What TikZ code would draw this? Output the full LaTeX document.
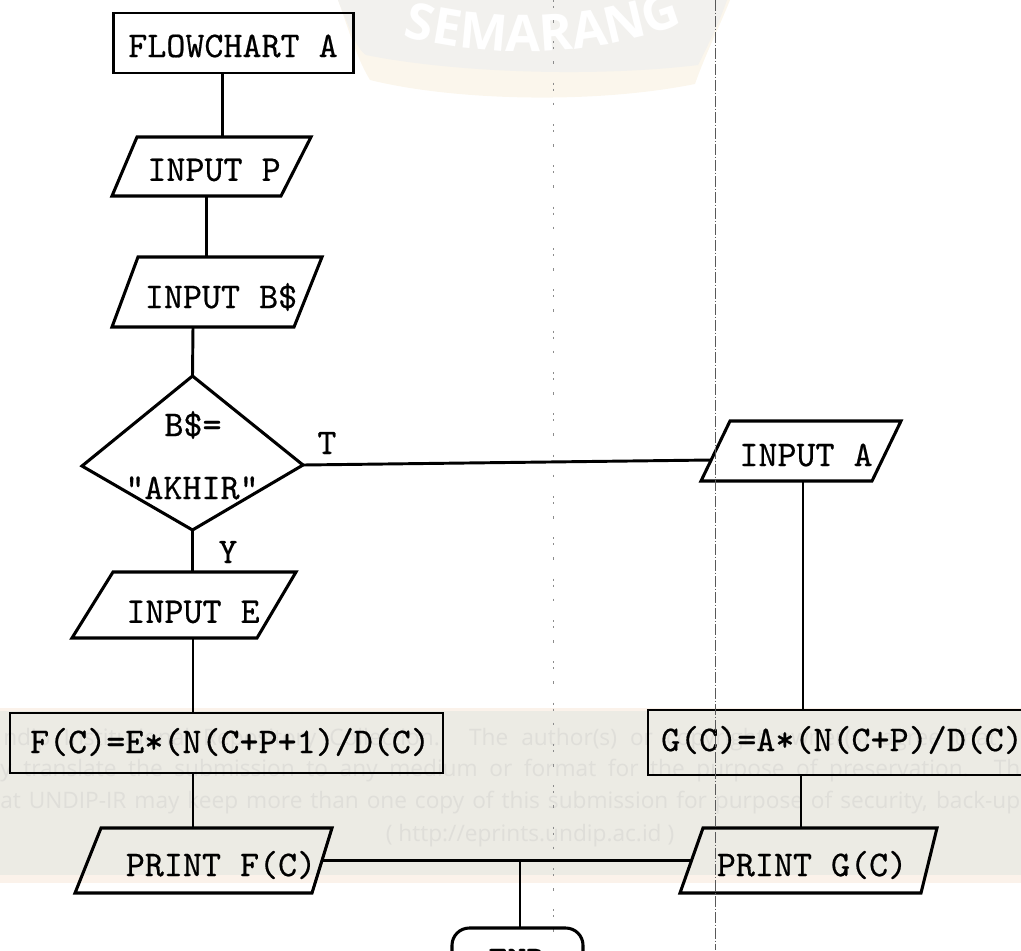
\documentclass[tikz,border=0pt]{standalone}
\usepackage{fontspec}
\setsansfont{Open Sans}
\setmonofont{lmmono10-regular.otf}[FakeBold=0.5]
\usetikzlibrary{calc,decorations.text}
\definecolor{bandc}{HTML}{ECEBE4}
\definecolor{peach}{HTML}{FBF2EA}
\definecolor{markc}{HTML}{DFDED9}
\definecolor{shield}{HTML}{F2F1EE}
\definecolor{shieldedge}{HTML}{FBF6EC}
\tikzset{
  x=0.75pt,y=-0.75pt,
  ink/.style={draw=black,line width=2.3pt},
  link/.style={draw=black,line width=2.2pt},
  hull/.style={rectangle,inner sep=0pt,outer sep=0pt},
  boxn/.style n args={2}{draw=black,line width=1.8pt,rectangle,inner sep=0pt,outer sep=0pt,minimum width=#1*0.75pt,minimum height=#2*0.75pt},
  txt/.style={inner sep=0pt,font=\ttfamily\fontsize{27.2}{30}\selectfont,text=black},
  flag/.style={inner sep=0pt,font=\ttfamily\fontsize{27}{28}\selectfont,text=black},
  wm/.style={inner sep=0pt,anchor=west,text=markc,font=\sffamily\fontsize{17}{20}\selectfont},
  scan/.style={draw=black!65,line width=0.6pt,dash pattern=on 8pt off 1.5pt on 1pt off 1.5pt},
  scansparse/.style={draw=black!45,line width=0.9pt,dash pattern=on 1.5pt off 3pt on 1.5pt off 9pt on 2pt off 14pt},
}
% name, top-left x, top-right x, bottom-left x, bottom-right x, top y, bottom y
\newcommand{\paraShape}[7]{%
  \node[hull,minimum width={(#3-#4)*0.75pt},minimum height={(#7-#6)*0.75pt}] (#1) at ({(#3+#4)/2},{(#6+#7)/2}) {};
  \coordinate (#1tl) at (#2,#6);
  \coordinate (#1tr) at (#3,#6);
  \coordinate (#1bl) at (#4,#7);
  \coordinate (#1br) at (#5,#7);
  \coordinate (#1lm) at ($(#1tl)!0.5!(#1bl)$);
  \coordinate (#1rm) at ($(#1tr)!0.5!(#1br)$);
  \draw[ink] (#1tl) -- (#1tr) -- (#1br) -- (#1bl) -- cycle;
}
\begin{document}
\begin{tikzpicture}
\useasboundingbox (0,0) rectangle (1021,950);
% watermark band
\fill[peach] (0,708) rectangle (1021,883);
\fill[bandc] (0,711) rectangle (1021,875);
\node[wm] (w1) at (3,740) {\makebox[745pt][s]{ndip Institutional Repository Collection. The author(s) or copyright owner(s) agree that}};
\node[wm] (w2) at (0,771) {\makebox[765pt][s]{y translate the submission to any medium or format for the purpose of preservation. Th}};
\node[wm] (w3) at (0,803) {\makebox[765pt][s]{at UNDIP-IR may keep more than one copy of this submission for purpose of security, back-up}};
\node[inner sep=0pt,text=markc,font=\sffamily\fontsize{17}{20}\selectfont] (w4) at (530,836) {( http://eprints.undip.ac.id )};
% shield watermark
\fill[shieldedge] (338,0) .. controls (352,40) and (358,60) .. (370,80) .. controls (450,100) and (590,105) .. (695,84) .. controls (705,55) and (718,30) .. (730,0) -- cycle;
\fill[shield] (338,0) .. controls (352,35) and (358,50) .. (366,55) .. controls (450,72) and (590,78) .. (698,65) .. controls (708,45) and (718,25) .. (727,0) -- cycle;
\path[decorate,decoration={text along path,text align=center,text={|\sffamily\bfseries\fontsize{38}{40}\selectfont\color{white}|SEMARANG}}] (396,34) .. controls (480,58) and (590,62) .. (690,20);
% scan lines
\draw[scansparse] (553.5,0) -- (553.5,950);
% shapes
\node[boxn={240}{60}] (fc) at (233.5,43) {};
\node[txt] (fcT) at (233,46) {FLOWCHART A};
\paraShape{ip}{137}{311}{112}{281}{137}{196}
\node[txt] (ipT) at (214,170) {INPUT P};
\paraShape{ib}{138}{322}{112}{294}{257}{327}
\node[txt] (ibT) at (221,297) {INPUT B\$};
\node[hull,minimum width=222*0.75pt,minimum height=154*0.75pt] (dc) at (192.5,453) {};
\coordinate (dcl) at (82,466);
\coordinate (dcr) at (303,465);
\draw[ink] (dc.north) -- (dcr) -- (dc.south) -- (dcl) -- cycle;
\node[txt] (dc1) at (193,425) {B\$=};
\node[txt] (dc2) at (192,488) {"AKHIR"};
\node[flag] (lt) at (327,443) {T};
\node[flag] (ly) at (228,552) {Y};
\paraShape{ie}{113}{296}{72}{257}{572}{638}
\node[txt] (ieT) at (193,612) {INPUT E};
\node[boxn={433}{60}] (fb) at (226.5,743) {};
\node[txt] (fbT) at (230,742) {F(C)=E*(N(C+P+1)/D(C)};
\paraShape{pf}{101}{332}{75}{312}{828}{893}
\node[txt] (pfT) at (221,865) {PRINT F(C)};
\paraShape{ia}{730}{901}{701}{872}{421}{481}
\node[txt] (iaT) at (806,455) {INPUT A};
\node[boxn={392}{65}] (gb) at (844,742.5) {};
\node[txt] (gbT) at (842,740) {G(C)=A*(N(C+P)/D(C)};
\paraShape{pg}{703}{937}{680}{921}{828}{893}
\node[txt] (pgT) at (812,865) {PRINT G(C)};
\node[ink,rectangle,rounded corners=13pt,inner sep=0pt,outer sep=0pt,minimum width=131*0.75pt,minimum height=64*0.75pt] (en) at (517.5,960) {};
\node[txt] (enT) at (517,960) {END};
% connector x positions
\coordinate (x1) at (222.6,0);
\coordinate (x2) at (206.6,0);
\coordinate (x3) at (193,0);
\coordinate (x4) at (803,0);
\coordinate (x5) at (801,0);
\coordinate (x6) at (520,0);
\coordinate (jn) at ($(pfrm)!0.538!(pglm)$);
% connectors
\draw[link] (fc.south -| x1) -- (ip.north -| x1);
\draw[link] (ip.south -| x2) -- (ib.north -| x2);
\draw[link] (ib.south -| x3) -- (dc.north);
\draw[link] (dc.south) -- (ie.north -| dc.south);
\draw[link] (ie.south -| x3) -- (fb.north -| x3);
\draw[link] (fb.south -| x3) -- (pf.north -| x3);
\draw[link] (dcr) -- ($(iabl)!0.35!(iatl)$);
\draw[link] (ia.south -| x4) -- (gb.north -| x4);
\draw[link] (gb.south -| x5) -- (pg.north -| x5);
\draw[link] (pfrm) -- (pglm);
\draw[link] (jn -| x6) -- (en.north -| x6);
\draw[scan] (715,0) -- (715,950);
\end{tikzpicture}
\end{document}
